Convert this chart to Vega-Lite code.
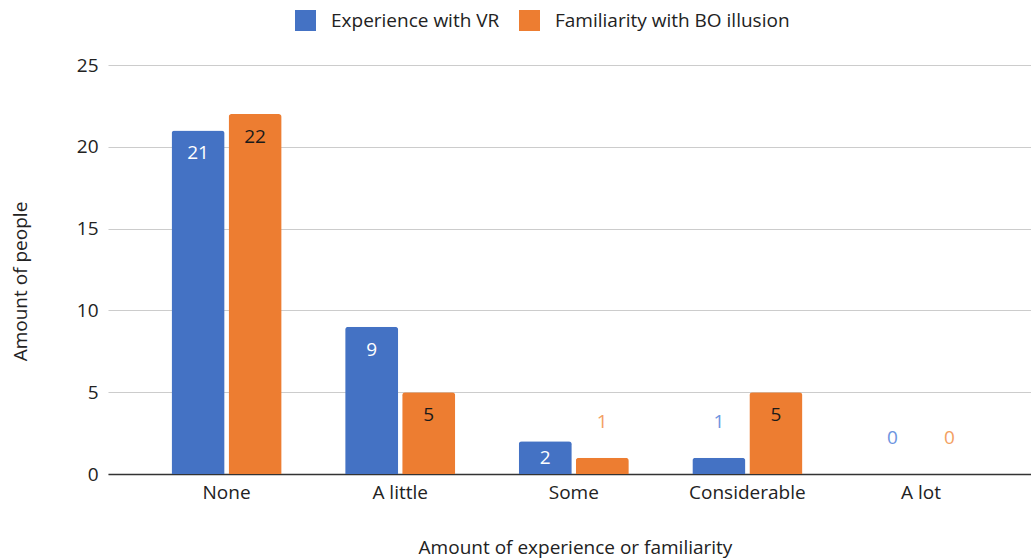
{
  "$schema": "https://vega.github.io/schema/vega-lite/v6.json",
  "width": 923,
  "height": 409,
  "autosize": {"type": "none"},
  "padding": {"left": 108, "top": 65, "right": 0, "bottom": 86},
  "background": "white",
  "config": {
    "view": {"stroke": null},
    "font": "Open Sans",
    "axis": {"labelFont": "Open Sans", "titleFont": "Open Sans"}
  },
  "data": {
    "values": [
      {"level": "None", "series": "Experience with VR", "people": 21},
      {"level": "None", "series": "Familiarity with BO illusion", "people": 22},
      {"level": "A little", "series": "Experience with VR", "people": 9},
      {"level": "A little", "series": "Familiarity with BO illusion", "people": 5},
      {"level": "Some", "series": "Experience with VR", "people": 2},
      {"level": "Some", "series": "Familiarity with BO illusion", "people": 1},
      {"level": "Considerable", "series": "Experience with VR", "people": 1},
      {"level": "Considerable", "series": "Familiarity with BO illusion", "people": 5},
      {"level": "A lot", "series": "Experience with VR", "people": 0},
      {"level": "A lot", "series": "Familiarity with BO illusion", "people": 0}
    ]
  },
  "encoding": {
    "x": {
      "field": "level",
      "type": "nominal",
      "sort": ["None", "A little", "Some", "Considerable", "A lot"],
      "scale": {"paddingInner": 0.366, "paddingOuter": 0.3415, "align": 0.536},
      "axis": {
        "title": "Amount of experience or familiarity",
        "titleFontSize": 19,
        "titleFontWeight": "normal",
        "titleColor": "#222222",
        "titlePadding": 36,
        "titleX": 467,
        "labelFontSize": 19,
        "labelColor": "#222222",
        "labelAngle": 0,
        "labelPadding": 9,
        "ticks": false,
        "domain": true,
        "domainColor": "#333333",
        "domainWidth": 1.5
      }
    },
    "xOffset": {
      "field": "series",
      "type": "nominal",
      "scale": {"paddingInner": 0.07, "paddingOuter": 0}
    },
    "y": {
      "field": "people",
      "type": "quantitative",
      "scale": {"domain": [0, 25]},
      "axis": {
        "title": "Amount of people",
        "titleFontSize": 19,
        "titleFontWeight": "normal",
        "titleColor": "#222222",
        "titleAngle": -90,
        "titleX": -88,
        "titleY": 216,
        "titleAlign": "center",
        "titleBaseline": "middle",
        "values": [0, 5, 10, 15, 20, 25],
        "labelFontSize": 19,
        "labelColor": "#222222",
        "labelPadding": 10,
        "ticks": false,
        "domain": false,
        "gridColor": "#cccccc",
        "gridWidth": 1.2
      }
    }
  },
  "layer": [
    {
      "mark": {"type": "bar", "cornerRadiusTopLeft": 3, "cornerRadiusTopRight": 3},
      "encoding": {
        "color": {
          "field": "series",
          "type": "nominal",
          "scale": {
            "domain": ["Experience with VR", "Familiarity with BO illusion"],
            "range": ["#4472c4", "#ed7d31"]
          },
          "legend": {
            "title": null,
            "orient": "none",
            "direction": "horizontal",
            "legendX": 187,
            "legendY": -55,
            "padding": 0,
            "symbolType": "square",
            "symbolSize": 441,
            "symbolStrokeWidth": 0,
            "symbolOpacity": 1,
            "labelFontSize": 19,
            "labelLimit": 500,
            "labelColor": "#222222",
            "labelOffset": 15,
            "columnPadding": 19
          }
        }
      }
    },
    {
      "transform": [{"filter": "datum.people >= 3"}],
      "mark": {"type": "text", "baseline": "middle", "dy": 23, "fontSize": 19},
      "encoding": {
        "text": {"field": "people", "type": "quantitative"},
        "color": {
          "field": "series",
          "type": "nominal",
          "scale": {
            "domain": ["Experience with VR", "Familiarity with BO illusion"],
            "range": ["#ffffff", "#1a1a1a"]
          },
          "legend": null
        }
      }
    },
    {
      "transform": [{"filter": "datum.people == 2"}],
      "mark": {"type": "text", "baseline": "middle", "dy": 17, "fontSize": 19, "color": "#ffffff"},
      "encoding": {
        "text": {"field": "people", "type": "quantitative"}
      }
    },
    {
      "transform": [{"filter": "datum.people <= 1"}],
      "mark": {"type": "text", "baseline": "middle", "dy": -36, "fontSize": 19},
      "encoding": {
        "text": {"field": "people", "type": "quantitative"},
        "color": {
          "field": "series",
          "type": "nominal",
          "scale": {
            "domain": ["Experience with VR", "Familiarity with BO illusion"],
            "range": ["#6d94e0", "#f3a062"]
          },
          "legend": null
        }
      }
    }
  ],
  "resolve": {"scale": {"color": "independent"}}
}
